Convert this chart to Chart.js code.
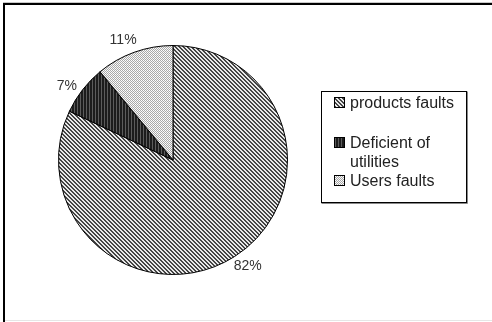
<!DOCTYPE html>
<html>
<head>
<meta charset="utf-8">
<script src="https://cdn.jsdelivr.net/npm/chart.js@4"></script>
<style>
html,body{margin:0;padding:0;background:#fff;}
#wrap{width:492px;height:322px;position:relative;}
</style>
</head>
<body>
<div id="wrap"><canvas id="c" width="492" height="322"></canvas></div>
<script>
const categories = ["products faults", "Deficient of utilities", "Users faults"];
const legendLines = [["products faults"], ["Deficient of", "utilities"], ["Users faults"]];
const values = [82, 7, 11];
const valueLabels = ["82%", "7%", "11%"];

function makePattern(kind) {
  const p = document.createElement('canvas');
  const g = p.getContext('2d');
  if (kind === 'hatch') {
    p.width = 4; p.height = 4;
    g.fillStyle = '#e8e8e8'; g.fillRect(0, 0, 4, 4);
    g.fillStyle = '#444';
    for (let i = 0; i < 4; i++) { g.fillRect(i, i, 1, 1); g.fillRect((i + 1) % 4, i, 1, 1); }
  } else if (kind === 'dark') {
    p.width = 3; p.height = 1;
    g.fillStyle = '#1c1c1c'; g.fillRect(0, 0, 3, 1);
    g.fillStyle = '#5c5c5c'; g.fillRect(2, 0, 1, 1);
  } else {
    p.width = 2; p.height = 2;
    g.fillStyle = '#f4f4f4'; g.fillRect(0, 0, 2, 2);
    g.fillStyle = '#a8a8a8'; g.fillRect(0, 0, 1, 1); g.fillRect(1, 1, 1, 1);
    g.fillStyle = '#ffffff'; g.fillRect(1, 0, 1, 1);
  }
  return document.getElementById('c').getContext('2d').createPattern(p, 'repeat');
}
const fills = [makePattern('hatch'), makePattern('dark'), makePattern('dots')];

const framePlugin = {
  id: 'frame',
  beforeDraw(chart) {
    const ctx = chart.ctx;
    ctx.save();
    ctx.fillStyle = '#fff'; ctx.fillRect(0, 0, 492, 322);
    ctx.fillStyle = '#c8c8c8'; ctx.fillRect(3, 2, 489, 1);
    ctx.fillStyle = '#000'; ctx.fillRect(3, 3, 489, 2);
    ctx.fillStyle = '#000'; ctx.fillRect(3, 3, 2, 319);
    ctx.fillStyle = '#e6e6e6'; ctx.fillRect(5, 320, 487, 1);
    ctx.restore();
  }
};

const labelPlugin = {
  id: 'labels',
  afterDatasetsDraw(chart) {
    const ctx = chart.ctx;
    const meta = chart.getDatasetMeta(0);
    ctx.save();
    ctx.font = '14px "Liberation Sans", Arial, sans-serif';
    ctx.fillStyle = '#333';
    ctx.textAlign = 'center';
    ctx.textBaseline = 'middle';
    meta.data.forEach((arc, i) => {
      const p = arc.getProps(['x', 'y', 'startAngle', 'endAngle', 'outerRadius'], true);
      const mid = (p.startAngle + p.endAngle) / 2 - 0.05;
      const r = p.outerRadius + 15;
      const tx = p.x + Math.cos(mid) * r;
      const ty = p.y + Math.sin(mid) * r;
      ctx.fillText(valueLabels[i], tx, ty);
    });
    // legend box
    const bx = 321.5, by = 91.5, bw = 145, bh = 111;
    ctx.strokeStyle = '#000';
    ctx.lineWidth = 1;
    ctx.strokeRect(bx, by, bw, bh);
    ctx.strokeStyle = '#888';
    ctx.beginPath(); ctx.moveTo(bx + bw + 1, by); ctx.lineTo(bx + bw + 1, by + bh + 1); ctx.lineTo(bx, by + bh + 1); ctx.stroke();
    const baseY = [108, 148, 186];
    ctx.textAlign = 'left';
    ctx.textBaseline = 'alphabetic';
    ctx.font = '16px "Liberation Sans", Arial, sans-serif';
    categories.forEach((c, i) => {
      const y = baseY[i];
      ctx.fillStyle = fills[i];
      ctx.fillRect(334, y - 11, 11, 11);
      ctx.strokeStyle = '#000';
      ctx.strokeRect(334.5, y - 10.5, 10, 10);
      ctx.fillStyle = '#222';
      legendLines[i].forEach((t, k) => ctx.fillText(t, 350, y + k * 19));
    });
    ctx.restore();
  }
};

new Chart(document.getElementById('c'), {
  type: 'pie',
  data: {
    labels: categories,
    datasets: [{
      data: values,
      backgroundColor: fills,
      borderColor: '#000',
      borderWidth: 1
    }]
  },
  options: {
    responsive: false,
    animation: false,
    layout: { padding: { left: 58, right: 204, top: 45, bottom: 47 } },
    plugins: { legend: { display: false }, tooltip: { enabled: false } }
  },
  plugins: [framePlugin, labelPlugin]
});
</script>
</body>
</html>
